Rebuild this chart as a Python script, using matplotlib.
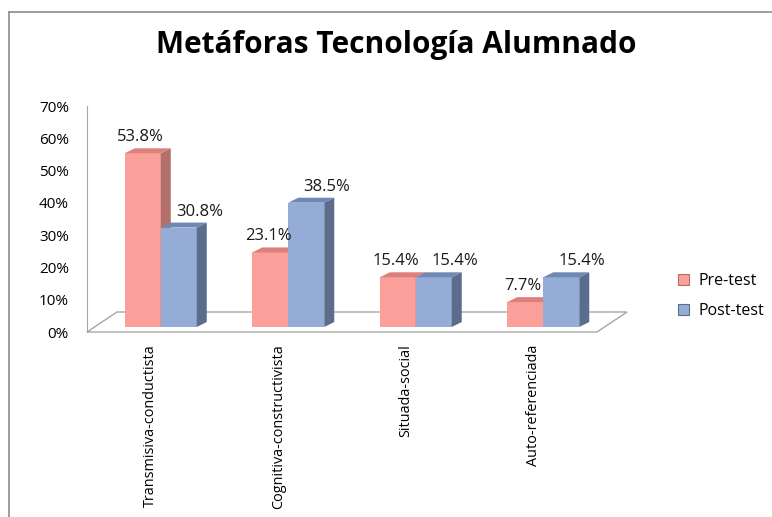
import numpy as np
import matplotlib
matplotlib.use("Agg")
import matplotlib.pyplot as plt
from matplotlib.patches import Polygon, Patch
from matplotlib.lines import Line2D

# ---- data ----
categories = ['Transmisiva-conductista', 'Cognitiva-constructivista',
              'Situada-social', 'Auto-referenciada']
pre_test = [53.8, 23.1, 15.4, 7.7]
post_test = [30.8, 38.5, 15.4, 15.4]
series_names = ['Pre-test', 'Post-test']
yticks = [0, 10, 20, 30, 40, 50, 60, 70]

FONT = 'Open Sans'
W, H = 772, 517
fig = plt.figure(figsize=(W / 100, H / 100), dpi=100)
ax = fig.add_axes([87 / W, 1 - 332 / H, 510 / W, 226 / H])
ax.set_xlim(0, len(categories))
ax.set_ylim(0, 70)

# pixel sizes in data units (fake 3D depth)
px_x = len(categories) / 510
px_y = 70 / 226
floor_dx, floor_dy = 30 * px_x, 20 * px_y
bar_dx, bar_dy = 10 * px_x, 5 * px_y
bar_w = 36 * px_x

cols = {'Pre-test': ('#FA9F99', '#DD807B', '#B36F6C'),
        'Post-test': ('#95ACD6', '#7088B6', '#5B6C8C')}

# floor
n = len(categories)
floor = Polygon([(0, 0), (n, 0), (n + floor_dx, floor_dy), (floor_dx, floor_dy)],
                closed=True, facecolor='white', edgecolor='#a6a6a6', lw=1.0,
                zorder=1, clip_on=False)
ax.add_patch(floor)

x = np.arange(n) + 0.5 + bar_dx
label_shift = {'Pre-test': -1.5, 'Post-test': 15}

for k, (name, vals) in enumerate(zip(series_names, [pre_test, post_test])):
    front, top, side = cols[name]
    left = x - bar_w if k == 0 else x
    z = 3 + k
    ax.bar(left, vals, width=bar_w, bottom=bar_dy, align='edge',
           color=front, edgecolor='none', zorder=z, clip_on=False)
    for xl, v in zip(left, vals):
        yt = v + bar_dy
        xr = xl + bar_w
        ax.add_patch(Polygon([(xr, bar_dy), (xr + bar_dx, 2 * bar_dy),
                              (xr + bar_dx, yt + bar_dy), (xr, yt)],
                             facecolor=side, edgecolor='none', zorder=z, clip_on=False))
        ax.add_patch(Polygon([(xl, yt), (xr, yt), (xr + bar_dx, yt + bar_dy),
                              (xl + bar_dx, yt + bar_dy)],
                             facecolor=top, edgecolor='none', zorder=z, clip_on=False))
        ax.annotate(f'{v:.1f}%', xy=(xl + bar_w / 2, yt), xytext=(label_shift[name], 11.5),
                    textcoords='offset points', ha='center', va='center',
                    fontsize=12, family=FONT, color='#1a1a1a', zorder=10)

# axes styling
for s in ['top', 'right', 'bottom']:
    ax.spines[s].set_visible(False)
ax.spines['left'].set_color('#a6a6a6')
ax.set_yticks(yticks)
ax.set_yticklabels([f'{t}%' for t in yticks], family=FONT, fontsize=11)
ax.set_xticks(np.arange(n) + 0.5)
ax.set_xticklabels(categories, rotation=90, va='top', ha='center',
                   family=FONT, fontsize=10.4)
ax.tick_params(axis='y', length=0, pad=13)
ax.tick_params(axis='x', length=0, pad=9)
ax.patch.set_alpha(0)

# legend
handles = [Patch(facecolor=cols[s][0], edgecolor=cols[s][2], lw=0.8) for s in series_names]
fig.legend(handles, series_names, loc='center left',
           bbox_to_anchor=(670 / W, 1 - 296 / H), frameon=False,
           prop={'family': FONT, 'size': 11.5}, handlelength=0.7, handleheight=0.7,
           handletextpad=0.6, labelspacing=0.9, borderpad=0)

fig.text(396 / W, 1 - 45 / H, 'Metáforas Tecnología Alumnado', ha='center', va='center',
         family=FONT, fontsize=21.5, weight='bold')

# chart frame (only left and top edges visible)
fig.add_artist(Line2D([9 / W, 9 / W], [0, 1 - 12 / H], color='#8c8c8c', lw=1.2))
fig.add_artist(Line2D([9 / W, 1], [1 - 12 / H, 1 - 12 / H], color='#8c8c8c', lw=1.2))

fig.savefig('out.png', dpi=100)
